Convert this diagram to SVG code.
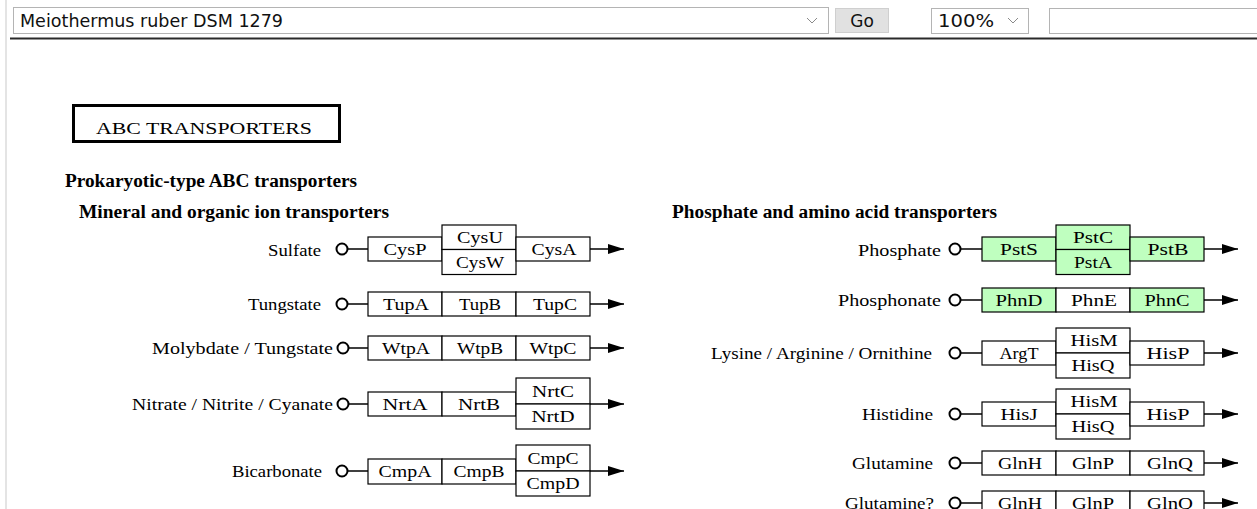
<svg xmlns="http://www.w3.org/2000/svg" width="1257" height="509" viewBox="0 0 1257 509">
<style>
.ui{font-family:"DejaVu Sans","Liberation Sans",sans-serif;font-size:17px;fill:#111}
.t{font-family:"Liberation Serif","Times New Roman",serif;font-size:17.5px;fill:#000}
.lb{text-anchor:end}
.bx{text-anchor:middle}
.h{font-family:"Liberation Serif","Times New Roman",serif;font-size:18px;font-weight:bold;fill:#000}
.b{fill:#fff;stroke:#000;stroke-width:1.2}
.g{fill:#bfffbf;stroke:#000;stroke-width:1.2}
.c{fill:#fff;stroke:#000;stroke-width:2}
.ln{stroke:#000;stroke-width:1.5;fill:none}
.ar{stroke:#000;stroke-width:1.5;fill:none;marker-end:url(#arr)}
</style>
<defs>
<marker id="arr" viewBox="0 0 16 10" refX="16" refY="5" markerWidth="16" markerHeight="10" markerUnits="userSpaceOnUse" orient="auto">
<path d="M0,0 L16,5 L0,10 z" fill="#000"/>
</marker>
</defs>
<rect width="1257" height="509" fill="#fff"/>
<line x1="6" y1="0" x2="6" y2="509" stroke="#e4e4e4" stroke-width="2"/>
<g id="toolbar">
<rect x="13.5" y="7.5" width="815" height="26" fill="#fff" stroke="#b4b4b4"/>
<text class="ui" x="20" y="27" textLength="263" lengthAdjust="spacingAndGlyphs">Meiothermus ruber DSM 1279</text>
<polyline points="807,18 812,23 817,18" fill="none" stroke="#8a8a8a"/>
<rect x="835.5" y="8.5" width="53" height="24" fill="#e1e1e1" stroke="#cfcfcf"/>
<text class="ui" x="862" y="27" text-anchor="middle">Go</text>
<rect x="931.5" y="8.5" width="97" height="25" fill="#fff" stroke="#b4b4b4"/>
<text class="ui" x="938" y="27" textLength="56" lengthAdjust="spacingAndGlyphs">100%</text>
<polyline points="1008,18 1013,23 1018,18" fill="none" stroke="#8a8a8a"/>
<rect x="1049.5" y="8.5" width="220" height="25" fill="#fff" stroke="#b4b4b4"/>
<line x1="10" y1="38.5" x2="1257" y2="38.5" stroke="#2a2a2a" stroke-width="2"/>
</g>
<g id="title">
<rect x="73.5" y="105.5" width="266" height="36" fill="#fff" stroke="#000" stroke-width="3"/>
<text class="t" x="204" y="134" text-anchor="middle" font-size="20" textLength="216" lengthAdjust="spacingAndGlyphs">ABC TRANSPORTERS</text>
</g>
<g id="headings">
<text class="h" x="65" y="187" textLength="292" lengthAdjust="spacingAndGlyphs">Prokaryotic-type ABC transporters</text>
<text class="h" x="79" y="218" textLength="310" lengthAdjust="spacingAndGlyphs">Mineral and organic ion transporters</text>
<text class="h" x="672" y="218" textLength="325" lengthAdjust="spacingAndGlyphs">Phosphate and amino acid transporters</text>
</g>

<g id="connectors">
<line class="ln" x1="348" y1="249" x2="368" y2="249"/>
<line class="ar" x1="590" y1="249" x2="624" y2="249"/>
<line class="ln" x1="348" y1="304" x2="368" y2="304"/>
<line class="ar" x1="590" y1="304" x2="624" y2="304"/>
<line class="ln" x1="349" y1="348" x2="368" y2="348"/>
<line class="ar" x1="590" y1="348" x2="624" y2="348"/>
<line class="ln" x1="349" y1="404" x2="368" y2="404"/>
<line class="ar" x1="590" y1="404" x2="624" y2="404"/>
<line class="ln" x1="348" y1="471" x2="368" y2="471"/>
<line class="ar" x1="590" y1="471" x2="624" y2="471"/>
<line class="ln" x1="961" y1="249" x2="982" y2="249"/>
<line class="ar" x1="1204" y1="249" x2="1238" y2="249"/>
<line class="ln" x1="961" y1="300" x2="982" y2="300"/>
<line class="ar" x1="1204" y1="300" x2="1238" y2="300"/>
<line class="ln" x1="961" y1="353" x2="982" y2="353"/>
<line class="ar" x1="1204" y1="353" x2="1238" y2="353"/>
<line class="ln" x1="961" y1="414" x2="982" y2="414"/>
<line class="ar" x1="1204" y1="414" x2="1238" y2="414"/>
<line class="ln" x1="961" y1="463" x2="982" y2="463"/>
<line class="ar" x1="1204" y1="463" x2="1238" y2="463"/>
<line class="ln" x1="961" y1="503" x2="982" y2="503"/>
<line class="ar" x1="1204" y1="503" x2="1238" y2="503"/>
</g>

<g id="sulfate">
<text class="t lb" x="321" y="256" textLength="53" lengthAdjust="spacingAndGlyphs">Sulfate</text>
<circle class="c" cx="342" cy="249" r="5.5"/>
<rect class="b" x="368" y="237" width="74" height="24"/>
<rect class="b" x="442" y="225" width="74" height="24.5"/>
<rect class="b" x="442" y="249.5" width="74" height="25"/>
<rect class="b" x="516" y="237" width="74" height="24"/>
<text class="t bx" x="405" y="255" textLength="43" lengthAdjust="spacingAndGlyphs">CysP</text>
<text class="t bx" x="480" y="243" textLength="46" lengthAdjust="spacingAndGlyphs">CysU</text>
<text class="t bx" x="480" y="268" textLength="48" lengthAdjust="spacingAndGlyphs">CysW</text>
<text class="t bx" x="554" y="255" textLength="45" lengthAdjust="spacingAndGlyphs">CysA</text>
</g>
<g id="tungstate">
<text class="t lb" x="321" y="310" textLength="73" lengthAdjust="spacingAndGlyphs">Tungstate</text>
<circle class="c" cx="342" cy="304" r="5.5"/>
<rect class="b" x="368" y="292" width="74" height="24"/>
<rect class="b" x="442" y="292" width="74" height="24"/>
<rect class="b" x="516" y="292" width="74" height="24"/>
<text class="t bx" x="406" y="310" textLength="46" lengthAdjust="spacingAndGlyphs">TupA</text>
<text class="t bx" x="480" y="310" textLength="42" lengthAdjust="spacingAndGlyphs">TupB</text>
<text class="t bx" x="555" y="310" textLength="44" lengthAdjust="spacingAndGlyphs">TupC</text>
</g>
<g id="molybdate">
<text class="t lb" x="333" y="354" textLength="181" lengthAdjust="spacingAndGlyphs">Molybdate / Tungstate</text>
<circle class="c" cx="343" cy="348" r="5.5"/>
<rect class="b" x="368" y="336" width="74" height="24"/>
<rect class="b" x="442" y="336" width="74" height="24"/>
<rect class="b" x="516" y="336" width="74" height="24"/>
<text class="t bx" x="406" y="354" textLength="48" lengthAdjust="spacingAndGlyphs">WtpA</text>
<text class="t bx" x="480" y="354" textLength="46" lengthAdjust="spacingAndGlyphs">WtpB</text>
<text class="t bx" x="553" y="354" textLength="47" lengthAdjust="spacingAndGlyphs">WtpC</text>
</g>
<g id="nitrate">
<text class="t lb" x="333" y="410" textLength="201" lengthAdjust="spacingAndGlyphs">Nitrate / Nitrite / Cyanate</text>
<circle class="c" cx="343" cy="404" r="5.5"/>
<rect class="b" x="368" y="392" width="74" height="24"/>
<rect class="b" x="442" y="392" width="74" height="24"/>
<rect class="b" x="516" y="378" width="74" height="26"/>
<rect class="b" x="516" y="404" width="74" height="25"/>
<text class="t bx" x="405" y="410" textLength="45" lengthAdjust="spacingAndGlyphs">NrtA</text>
<text class="t bx" x="479" y="410" textLength="42" lengthAdjust="spacingAndGlyphs">NrtB</text>
<text class="t bx" x="553" y="397" textLength="42" lengthAdjust="spacingAndGlyphs">NrtC</text>
<text class="t bx" x="553" y="422" textLength="43" lengthAdjust="spacingAndGlyphs">NrtD</text>
</g>
<g id="bicarbonate">
<text class="t lb" x="322" y="477" textLength="90" lengthAdjust="spacingAndGlyphs">Bicarbonate</text>
<circle class="c" cx="342" cy="471" r="5.5"/>
<rect class="b" x="368" y="459" width="74" height="25"/>
<rect class="b" x="442" y="459" width="74" height="25"/>
<rect class="b" x="516" y="445" width="74" height="26"/>
<rect class="b" x="516" y="471" width="74" height="25"/>
<text class="t bx" x="405" y="477" textLength="53" lengthAdjust="spacingAndGlyphs">CmpA</text>
<text class="t bx" x="479" y="477" textLength="51" lengthAdjust="spacingAndGlyphs">CmpB</text>
<text class="t bx" x="553" y="464" textLength="51" lengthAdjust="spacingAndGlyphs">CmpC</text>
<text class="t bx" x="553" y="489" textLength="53" lengthAdjust="spacingAndGlyphs">CmpD</text>
</g>

<g id="phosphate">
<text class="t lb" x="941" y="256" textLength="83" lengthAdjust="spacingAndGlyphs">Phosphate</text>
<circle class="c" cx="955" cy="249" r="5.5"/>
<rect class="g" x="982" y="237" width="74" height="24"/>
<rect class="g" x="1056" y="225" width="74" height="24.5"/>
<rect class="g" x="1056" y="249.5" width="74" height="25"/>
<rect class="g" x="1130" y="237" width="74" height="24"/>
<text class="t bx" x="1019" y="255" textLength="38" lengthAdjust="spacingAndGlyphs">PstS</text>
<text class="t bx" x="1093" y="243" textLength="40" lengthAdjust="spacingAndGlyphs">PstC</text>
<text class="t bx" x="1093" y="268" textLength="38" lengthAdjust="spacingAndGlyphs">PstA</text>
<text class="t bx" x="1168" y="255" textLength="41" lengthAdjust="spacingAndGlyphs">PstB</text>
</g>
<g id="phosphonate">
<text class="t lb" x="941" y="306" textLength="103" lengthAdjust="spacingAndGlyphs">Phosphonate</text>
<circle class="c" cx="955" cy="300" r="5.5"/>
<rect class="g" x="982" y="288" width="74" height="24"/>
<rect class="b" x="1056" y="288" width="74" height="24"/>
<rect class="g" x="1130" y="288" width="74" height="24"/>
<text class="t bx" x="1019" y="306" textLength="47" lengthAdjust="spacingAndGlyphs">PhnD</text>
<text class="t bx" x="1094" y="306" textLength="46" lengthAdjust="spacingAndGlyphs">PhnE</text>
<text class="t bx" x="1167" y="306" textLength="45" lengthAdjust="spacingAndGlyphs">PhnC</text>
</g>
<g id="lysine">
<text class="t lb" x="932" y="359" textLength="221" lengthAdjust="spacingAndGlyphs">Lysine / Arginine / Ornithine</text>
<circle class="c" cx="955" cy="353" r="5.5"/>
<rect class="b" x="982" y="341" width="74" height="24"/>
<rect class="b" x="1056" y="328" width="74" height="25"/>
<rect class="b" x="1056" y="353" width="74" height="25"/>
<rect class="b" x="1130" y="341" width="74" height="24"/>
<text class="t bx" x="1019" y="359" textLength="39" lengthAdjust="spacingAndGlyphs">ArgT</text>
<text class="t bx" x="1094" y="346" textLength="47" lengthAdjust="spacingAndGlyphs">HisM</text>
<text class="t bx" x="1093" y="371" textLength="43" lengthAdjust="spacingAndGlyphs">HisQ</text>
<text class="t bx" x="1168" y="359" textLength="43" lengthAdjust="spacingAndGlyphs">HisP</text>
</g>
<g id="histidine">
<text class="t lb" x="933" y="420" textLength="71" lengthAdjust="spacingAndGlyphs">Histidine</text>
<circle class="c" cx="955" cy="414" r="5.5"/>
<rect class="b" x="982" y="402" width="74" height="24"/>
<rect class="b" x="1056" y="389" width="74" height="25"/>
<rect class="b" x="1056" y="414" width="74" height="25"/>
<rect class="b" x="1130" y="402" width="74" height="24"/>
<text class="t bx" x="1019" y="420" textLength="37" lengthAdjust="spacingAndGlyphs">HisJ</text>
<text class="t bx" x="1094" y="407" textLength="47" lengthAdjust="spacingAndGlyphs">HisM</text>
<text class="t bx" x="1093" y="432" textLength="43" lengthAdjust="spacingAndGlyphs">HisQ</text>
<text class="t bx" x="1168" y="420" textLength="43" lengthAdjust="spacingAndGlyphs">HisP</text>
</g>
<g id="glutamine">
<text class="t lb" x="933" y="469" textLength="81" lengthAdjust="spacingAndGlyphs">Glutamine</text>
<circle class="c" cx="955" cy="463" r="5.5"/>
<rect class="b" x="982" y="451" width="74" height="24"/>
<rect class="b" x="1056" y="451" width="74" height="24"/>
<rect class="b" x="1130" y="451" width="74" height="24"/>
<text class="t bx" x="1020" y="469" textLength="44" lengthAdjust="spacingAndGlyphs">GlnH</text>
<text class="t bx" x="1093" y="469" textLength="42" lengthAdjust="spacingAndGlyphs">GlnP</text>
<text class="t bx" x="1170" y="469" textLength="46" lengthAdjust="spacingAndGlyphs">GlnQ</text>
</g>
<g id="glutamine2">
<text class="t lb" x="934" y="509" textLength="89" lengthAdjust="spacingAndGlyphs">Glutamine?</text>
<circle class="c" cx="955" cy="503" r="5.5"/>
<rect class="b" x="982" y="491" width="74" height="24"/>
<rect class="b" x="1056" y="491" width="74" height="24"/>
<rect class="b" x="1130" y="491" width="74" height="24"/>
<text class="t bx" x="1020" y="509" textLength="44" lengthAdjust="spacingAndGlyphs">GlnH</text>
<text class="t bx" x="1093" y="509" textLength="42" lengthAdjust="spacingAndGlyphs">GlnP</text>
<text class="t bx" x="1170" y="509" textLength="46" lengthAdjust="spacingAndGlyphs">GlnQ</text>
</g>
</svg>
